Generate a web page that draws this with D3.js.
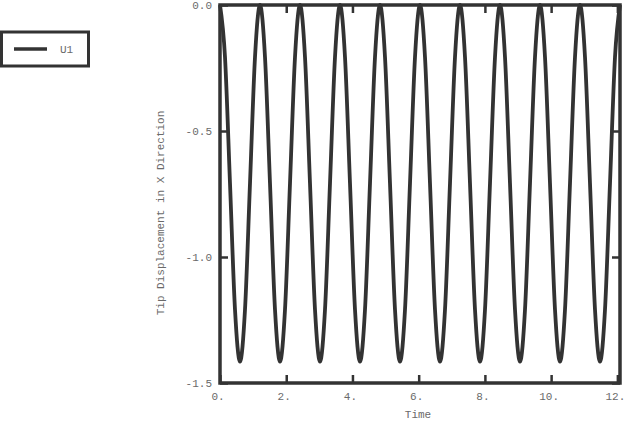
<!DOCTYPE html>
<html><head><meta charset="utf-8">
<script src="https://cdn.jsdelivr.net/npm/d3@7"></script>
<style>body{margin:0;background:#fff}svg{display:block}text{font-family:"Liberation Mono","DejaVu Sans Mono",monospace}</style>
</head><body>
<svg id="c" width="625" height="421"></svg>
<script>
const times = [0, 0.151, 0.302, 0.453, 0.604, 0.755, 0.906, 1.057, 1.208, 1.359, 1.51, 1.661, 1.812, 1.963, 2.114, 2.265, 2.416, 2.567, 2.718, 2.869, 3.02, 3.171, 3.322, 3.473, 3.624, 3.775, 3.926, 4.077, 4.228, 4.379, 4.53, 4.681, 4.832, 4.983, 5.134, 5.285, 5.436, 5.587, 5.738, 5.889, 6.04, 6.191, 6.342, 6.493, 6.644, 6.795, 6.946, 7.097, 7.248, 7.399, 7.55, 7.701, 7.852, 8.003, 8.154, 8.305, 8.456, 8.607, 8.758, 8.909, 9.06, 9.211, 9.362, 9.513, 9.664, 9.815, 9.966, 10.117, 10.268, 10.419, 10.57, 10.721, 10.872, 11.023, 11.174, 11.325, 11.476, 11.627, 11.778, 11.929, 12.08];
const u1 = [
 0, -0.207, -0.708, -1.209, -1.415, -1.209, -0.708, -0.207,
 0, -0.207, -0.708, -1.209, -1.415, -1.209, -0.708, -0.207,
 0, -0.207, -0.708, -1.209, -1.415, -1.209, -0.708, -0.207,
 0, -0.207, -0.708, -1.209, -1.415, -1.209, -0.708, -0.207,
 0, -0.207, -0.708, -1.209, -1.415, -1.209, -0.708, -0.207,
 0, -0.207, -0.708, -1.209, -1.415, -1.209, -0.708, -0.207,
 0, -0.207, -0.708, -1.209, -1.415, -1.209, -0.708, -0.207,
 0, -0.207, -0.708, -1.209, -1.415, -1.209, -0.708, -0.207,
 0, -0.207, -0.708, -1.209, -1.415, -1.209, -0.708, -0.207,
 0, -0.207, -0.708, -1.209, -1.415, -1.209, -0.708, -0.207,
 0];
const xTicks = [0, 2, 4, 6, 8, 10, 12];
const xTickLabels = ["0.", "2.", "4.", "6.", "8.", "10.", "12."];
const yTicks = [0, -0.5, -1.0, -1.5];
const yTickLabels = ["0.0", "-0.5", "-1.0", "-1.5"];
const seriesName = "U1";
const xTitle = "Time";
const yTitle = "Tip Displacement in X Direction";

const svg = d3.select("#c");
const L = 220, R = 620, T = 5, B = 383;
const x = d3.scaleLinear().domain([0, 12.08]).range([L, R]);
const y = d3.scaleLinear().domain([-1.5, 0]).range([B, T]);
const ink = "#333";
const txt = "#6a6a6a";

// curve
const data = times.map((t, i) => [t, u1[i]]);
svg.append("path").datum(data)
  .attr("fill", "none").attr("stroke", ink).attr("stroke-width", 3.8)
  .attr("stroke-linejoin", "round")
  .attr("d", d3.line().x(d => x(d[0])).y(d => y(d[1])).curve(d3.curveMonotoneX));

// axes (ticks inward)
const gBottom = svg.append("g").attr("transform", `translate(0,${B})`)
  .call(d3.axisTop(x).tickValues(xTicks).tickSize(8).tickFormat(""));
const gTop = svg.append("g").attr("transform", `translate(0,${T})`)
  .call(d3.axisBottom(x).tickValues(xTicks).tickSize(8).tickFormat(""));
const gLeft = svg.append("g").attr("transform", `translate(${L},0)`)
  .call(d3.axisRight(y).tickValues(yTicks).tickSize(8).tickFormat(""));
const gRight = svg.append("g").attr("transform", `translate(${R},0)`)
  .call(d3.axisLeft(y).tickValues(yTicks).tickSize(8).tickFormat(""));
[gBottom, gTop, gLeft, gRight].forEach(g => {
  g.select(".domain").remove();
  g.selectAll("line").attr("stroke", ink).attr("stroke-width", 2.5);
});

// frame
svg.append("rect").attr("x", L).attr("y", T).attr("width", R - L).attr("height", B - T)
  .attr("fill", "none").attr("stroke", ink).attr("stroke-width", 3.5);

// tick labels
svg.append("g").selectAll("text").data(xTicks).join("text")
  .attr("x", d => x(d) - 2).attr("y", B + 17).attr("text-anchor", "middle")
  .attr("font-size", 11).attr("fill", txt)
  .text((d, i) => xTickLabels[i]);
svg.append("g").selectAll("text").data(yTicks).join("text")
  .attr("x", L - 8).attr("y", d => y(d) + 4).attr("text-anchor", "end")
  .attr("font-size", 11).attr("fill", txt)
  .text((d, i) => yTickLabels[i]);

// axis titles
svg.append("text").attr("x", 418).attr("y", 418).attr("text-anchor", "middle")
  .attr("font-size", 11).attr("fill", txt).text(xTitle);
svg.append("text").attr("transform", "translate(164,213) rotate(-90)").attr("text-anchor", "middle")
  .attr("font-size", 11).attr("fill", txt).text(yTitle);

// legend
svg.append("rect").attr("x", 1.5).attr("y", 32).attr("width", 87).attr("height", 34)
  .attr("fill", "none").attr("stroke", ink).attr("stroke-width", 3);
svg.append("line").attr("x1", 14).attr("x2", 47).attr("y1", 49).attr("y2", 49)
  .attr("stroke", ink).attr("stroke-width", 3.5);
svg.append("text").attr("x", 60).attr("y", 53).attr("font-size", 11).attr("fill", txt).text(seriesName);
</script>
</body></html>
